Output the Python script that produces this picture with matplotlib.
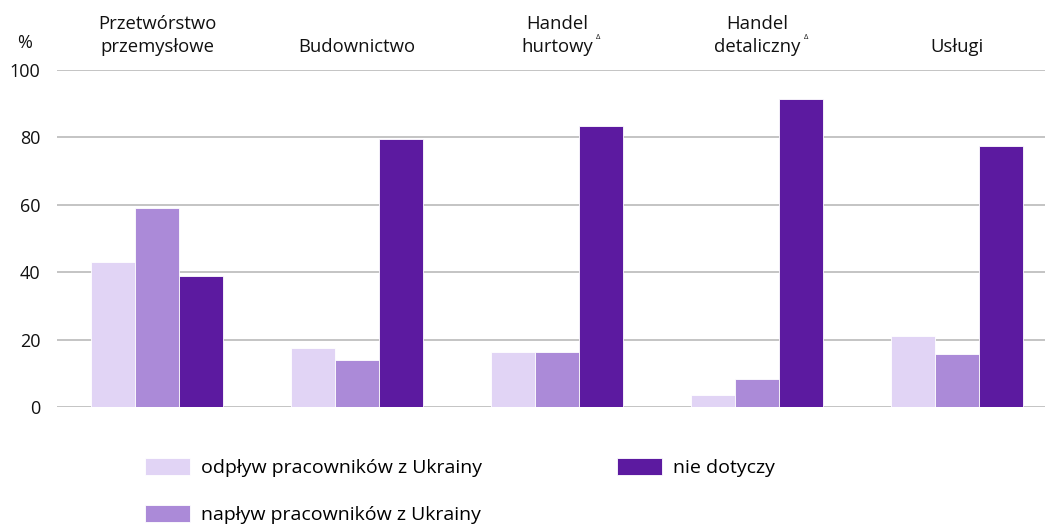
import numpy as np
import matplotlib.pyplot as plt

plt.rcParams['font.family'] = ['Open Sans', 'DejaVu Sans']

categories = ['Przetwórstwo\nprzemysłowe', 'Budownictwo', 'Handel\nhurtowy',
              'Handel\ndetaliczny', 'Usługi']
has_delta = [False, False, True, True, False]
odplyw = [43.0, 17.5, 16.3, 3.6, 21.0]
naplyw = [59.0, 14.0, 16.3, 8.3, 15.7]
nie_dotyczy = [39.0, 79.5, 83.4, 91.4, 77.5]
series_names = ['odpływ pracowników z Ukrainy', 'napływ pracowników z Ukrainy', 'nie dotyczy']
colors = ['#e1d4f5', '#ab8ad8', '#5c1aa0']

fig = plt.figure(figsize=(10.45, 5.24), dpi=100)
ax = fig.add_axes([57 / 1045, (524 - 407) / 524, 1 - 57 / 1045, 337 / 524])

x = np.arange(len(categories))
w = 0.22
handles = []
for i, (vals, c, name) in enumerate(zip([odplyw, naplyw, nie_dotyczy], colors, series_names)):
    b = ax.bar(x + (i - 1) * w, vals, w, color=c, label=name, zorder=3,
               edgecolor='white', linewidth=0.6)
    handles.append(b)

ax.set_ylim(0, 100)
ax.set_xlim(-0.5, 4.44)
ax.set_yticks([0, 20, 40, 60, 80, 100])
ax.yaxis.grid(True, color='#c4c4c4', linewidth=1.4, zorder=0)
ax.tick_params(axis='y', length=0, labelsize=13, pad=12, colors='#111111')
ax.tick_params(axis='x', length=0, labelbottom=False)
for s in ax.spines.values():
    s.set_visible(False)

for i, cat in enumerate(categories):
    t = ax.text(x[i], 104.2, cat, ha='center', va='bottom', fontsize=13.3,
                linespacing=1.35, color='#111111')
    if has_delta[i]:
        ax.annotate('Δ', xy=(1, 0.45), xycoords=t, xytext=(2.5, 0),
                    textcoords='offset points', fontsize=5.5, va='center',
                    ha='left', color='#111111')

fig.text(25 / 1045, 1 - 43 / 524, '%', ha='center', va='center', fontsize=13,
         color='#111111')

common = dict(loc='upper left', frameon=False, fontsize=14, borderpad=0,
              borderaxespad=0, handlelength=2.3, handleheight=0.95,
              handletextpad=0.6, labelspacing=1.45)
leg1 = fig.legend(handles=handles[:2], labels=series_names[:2],
                  bbox_to_anchor=(145 / 1045, 1 - 458 / 524), **common)
leg2 = fig.legend(handles=handles[2:], labels=series_names[2:],
                  bbox_to_anchor=(617 / 1045, 1 - 458 / 524), **common)

fig.savefig('out.png', dpi=100)
